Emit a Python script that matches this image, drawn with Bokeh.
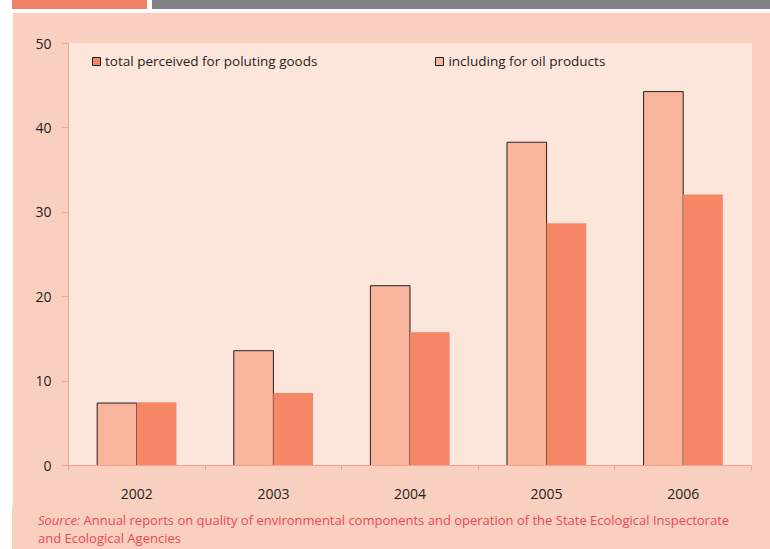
import numpy as np
from bokeh.plotting import figure
from bokeh.models import (ColumnDataSource, Range1d, FixedTicker, Legend, LegendItem,
                          Div, Spacer, GlobalInlineStyleSheet)
from bokeh.layouts import column, row
from bokeh.embed import file_html
from bokeh.resources import INLINE

years = ["2002", "2003", "2004", "2005", "2006"]
oil_products = [7.4, 13.6, 21.3, 38.3, 44.3]
total_polluting = [7.5, 8.6, 15.8, 28.7, 32.1]
series_names = ["total perceived for poluting goods", "including for oil products"]
y_ticks = [0, 10, 20, 30, 40, 50]
source_note = ("Annual reports on quality of environmental components and operation of the State Ecological Inspectorate",
               "and Ecological Agencies")

FONT = "Open Sans"
TXT = "#231f20"
AX = "#f3a195"
BW = 0.29

idx = np.arange(len(years))
src = ColumnDataSource(dict(
    xl=idx + 0.5 - BW / 2, xr=idx + 0.5 + BW / 2,
    oil=oil_products, tot=total_polluting))

p = figure(width=758, height=495, output_backend="svg", toolbar_location=None,
           x_range=Range1d(0, len(years)), y_range=Range1d(0, 50),
           min_border_left=56, min_border_right=19, min_border_top=31, min_border_bottom=42)
p.background_fill_color = "#fce6dc"
p.border_fill_color = "#f9cfc0"
p.outline_line_color = None
p.xgrid.visible = False
p.ygrid.visible = False

r_oil = p.vbar(x="xl", top="oil", width=BW, bottom=0, source=src,
               fill_color="#f9b59b", line_color=TXT, line_width=1)
r_tot = p.vbar(x="xr", top="tot", width=BW, bottom=0, source=src,
               fill_color="#f58766", line_color=None)

# hidden legend proxies (legend swatches have a dark outline)
lg_tot = p.vbar(x="xr", top="tot", width=BW, source=src, fill_color="#f58766", line_color=TXT, visible=False)
lg_oil = p.vbar(x="xl", top="oil", width=BW, source=src, fill_color="#f9b59b", line_color=TXT, visible=False)

legend = Legend(items=[LegendItem(label=series_names[0], renderers=[lg_tot]),
                       LegendItem(label=series_names[1], renderers=[lg_oil])],
                orientation="horizontal", location=(23, 395), padding=0, margin=0,
                spacing=117, glyph_width=10, glyph_height=10, label_standoff=4,
                label_text_font=FONT, label_text_font_size="13.5px", label_text_color=TXT,
                border_line_color=None, background_fill_alpha=0, inactive_fill_alpha=0,
                click_policy="none")
p.add_layout(legend, "center")

# x axis
p.xaxis.ticker = FixedTicker(ticks=list(idx + 0.5), minor_ticks=list(range(len(years) + 1)))
p.xaxis.major_label_overrides = {float(i + 0.5): y for i, y in enumerate(years)}
p.xaxis.major_tick_line_color = None
p.xaxis.major_tick_out = 0
p.xaxis.minor_tick_line_color = AX
p.xaxis.minor_tick_out = 5
p.xaxis.minor_tick_in = 0
p.xaxis.axis_line_color = AX
p.xaxis.major_label_standoff = 18
p.xaxis.major_label_text_font = FONT
p.xaxis.major_label_text_font_size = "14px"
p.xaxis.major_label_text_color = TXT

# y axis
p.yaxis.ticker = FixedTicker(ticks=y_ticks)
p.yaxis.major_tick_line_color = AX
p.yaxis.major_tick_out = 6
p.yaxis.major_tick_in = 0
p.yaxis.minor_tick_line_color = None
p.yaxis.axis_line_color = AX
p.yaxis.major_label_standoff = 11
p.yaxis.major_label_text_font = FONT
p.yaxis.major_label_text_font_size = "14px"
p.yaxis.major_label_text_color = TXT

header = Div(width=770, height=12, margin=0, text=(
    '<div style="position:relative;width:770px;height:12px;background:#ffffff">'
    '<div style="position:absolute;left:12px;top:0;width:135px;height:9px;background:#f08068"></div>'
    '<div style="position:absolute;left:152px;top:0;width:618px;height:9px;background:#808184"></div>'
    '</div>'))

source_div = Div(width=758, height=42, margin=0, styles={"background-color": "#f9cfc0"}, text=(
    '<div style="width:758px;height:42px;box-sizing:border-box;padding:4px 0 0 26px;'
    'font-family:\'Open Sans\';font-size:13px;line-height:18px;color:#ee4753;white-space:nowrap">'
    '<i>Source:</i> ' + source_note[0] + '<br>' + source_note[1] + '</div>'))

layout = column(header, row(Spacer(width=12, height=537, margin=0),
                            column(p, source_div, spacing=0), spacing=0),
                spacing=0)
layout.stylesheets = [GlobalInlineStyleSheet(css="body { margin: 0; background: #ffffff; }")]

open("out.html", "w").write(file_html(layout, INLINE))
